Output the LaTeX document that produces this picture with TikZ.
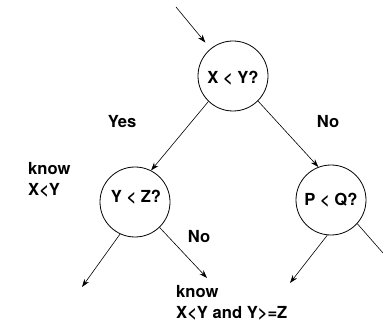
\documentclass[tikz,border=0pt]{standalone}
\usepackage{fontspec}
\setmainfont{TeX Gyre Heros}
\usetikzlibrary{arrows.meta}
\tikzset{
  decision/.style={draw, circle, minimum size=70pt, inner sep=0pt, line width=0.8pt},
  arr/.style={-{Stealth[length=8pt,width=5.5pt,inset=2.5pt]}, line width=0.6pt},
  plain/.style={line width=0.6pt},
  lbl/.style={font=\fontsize{16.6}{21.5}\selectfont\bfseries, inner sep=0pt},
  lbll/.style={lbl, anchor=west, align=left}
}
\begin{document}
\begin{tikzpicture}[x=1pt,y=-1pt]
\useasboundingbox (0,0) rectangle (383,323);
\node[decision] (top) at (233,76) {};
\node[lbl] (toptext) at (233,78) {X < Y?};
\node[decision] (left) at (135,202) {};
\node[lbl] (lefttext) at (136,197) {Y < Z?};
\node[decision] (right) at (331,200) {};
\node[lbl] (righttext) at (331,200) {P < Q?};

\coordinate (in) at (176,7);
\coordinate (ll) at (82,287);
\coordinate (lr) at (207,278);
\coordinate (rl) at (290,283);
\coordinate (rr) at (383,253);

\draw[arr, shorten >=8pt] (in) -- (top);
\draw[arr] (top.-134) -- (left.63);
\draw[arr] (top.-45) -- (right.111);
\draw[arr] (left.-115) -- (ll);
\draw[arr] (left.-46) -- (lr);
\draw[arr] (right.-96) -- (rl);
\draw[plain] (right.-42) -- (rr);

\node[lbl] (yes) at (122,122) {Yes};
\node[lbl] (no1) at (328,122) {No};
\node[lbll] (k1) at (28,180) {know\\X<Y};
\node[lbl] (no2) at (199,237) {No};
\node[lbll] (k2) at (176,303) {know\\X<Y and Y>=Z};
\end{tikzpicture}
\end{document}
